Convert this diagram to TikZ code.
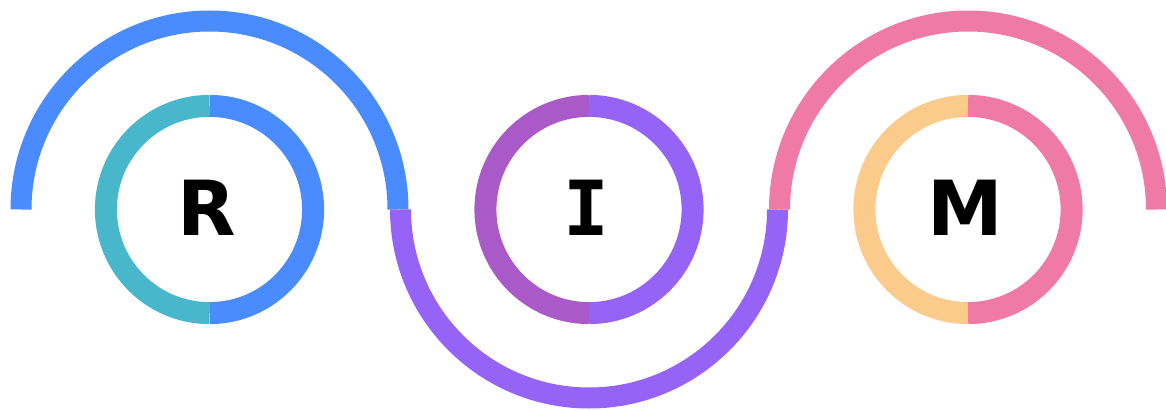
\documentclass[tikz,border=0pt]{standalone}
\usepackage{fontspec}
\setmainfont{DejaVu Sans}
\newfontfamily\monofam{DejaVu Sans Mono}
\definecolor{cblue}{HTML}{4A8BFF}
\definecolor{cteal}{HTML}{49B7CB}
\definecolor{cviolet}{HTML}{AA5AC8}
\definecolor{cpurple}{HTML}{9563F5}
\definecolor{corange}{HTML}{FACB8A}
\definecolor{cpink}{HTML}{EF7AA6}
\tikzset{
  bigarc/.style={line width=21pt, line cap=butt},
  ringarc/.style={line width=22pt, line cap=butt},
  letter/.style={anchor=base, inner sep=0pt, font=\bfseries\fontsize{76}{76}\selectfont, text=black}
}
\begin{document}
\begin{tikzpicture}[x=1pt,y=1pt]
\useasboundingbox (0,0) rectangle (1166,410);
% centres
\coordinate (c1) at (209.5,200.5);
\coordinate (c2) at (589,200.5);
\coordinate (c3) at (968,200.5);
% big connecting arcs
\draw[bigarc, cblue] ([xshift=-188.5pt]c1) arc[start angle=180, end angle=0, radius=188.5];
\draw[bigarc, cpurple] ([xshift=-188.5pt]c2) arc[start angle=180, end angle=360, radius=188.5];
\draw[bigarc, cpink] ([xshift=-188.5pt]c3) arc[start angle=180, end angle=0, radius=188.5];
% rings
\draw[ringarc, cteal] ([yshift=103.6pt]c1) arc[start angle=90, end angle=270, radius=103.6];
\draw[ringarc, cblue] ([yshift=-103.6pt]c1) arc[start angle=-90, end angle=90, radius=103.6];
\draw[ringarc, cviolet] ([yshift=103.6pt]c2) arc[start angle=90, end angle=270, radius=103.6];
\draw[ringarc, cpurple] ([yshift=-103.6pt]c2) arc[start angle=-90, end angle=90, radius=103.6];
\draw[ringarc, corange] ([yshift=103.6pt]c3) arc[start angle=90, end angle=270, radius=103.6];
\draw[ringarc, cpink] ([yshift=-103.6pt]c3) arc[start angle=-90, end angle=90, radius=103.6];
% letters
\node[letter] (r) at (207,175) {R};
\node[letter, font=\monofam\bfseries\fontsize{76}{76}\selectfont] (i) at (586,175) {I};
\node[letter] (m) at (965,175) {M};
\end{tikzpicture}
\end{document}
